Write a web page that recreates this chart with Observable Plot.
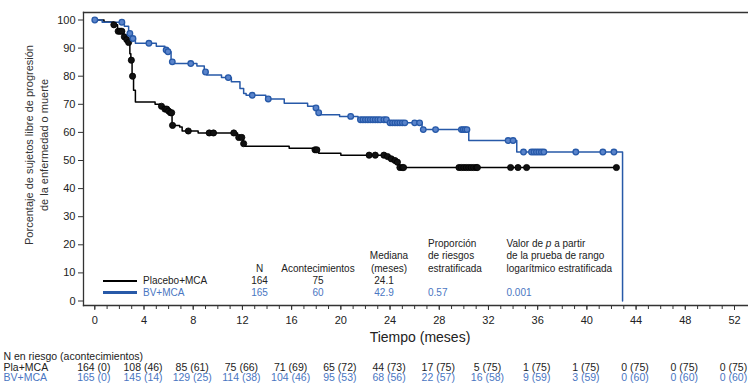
<!DOCTYPE html>
<html><head><meta charset="utf-8">
<script src="https://cdn.jsdelivr.net/npm/d3@7"></script>
<script src="https://cdn.jsdelivr.net/npm/@observablehq/plot@0.6"></script>
<style>
body{margin:0;background:#fff;}
#wrap{position:relative;width:748px;height:383px;font-family:"Liberation Sans",Arial,sans-serif;}
.lg{position:absolute;font-size:10px;line-height:12.5px;white-space:nowrap;color:#222;}
.sw{position:absolute;height:2.5px;}
</style></head><body><div id="wrap"></div>
<script>
// ---- Kaplan-Meier step data (time in months, % free of progression) ----
const placeboStepT = [0,0.75,1.5,1.85,2.35,2.5,2.7,2.85,2.93,3.03,3.15,3.3,4.9,5.3,5.6,5.9,6.1,6.28,6.9,7.1,8.4,11.6,12.05,12.2,15.8,17.8,18.2,20.0,23.7,24.0,24.3,24.5,24.7,42.4];
const placeboStepS = [100,99.3,98.3,96,94,93,92,88,85.7,80,75,70.8,70,69.3,68.3,67.6,67,62.5,61.9,60.5,59.8,58.2,56,55.1,54.4,53.8,52.6,51.9,51.4,50.6,50,49.4,47.5,47.5];
const placeboCensorT = [1.55,1.9,2.05,2.2,2.4,2.6,2.75,2.97,3.07,5.42,5.7,5.85,6.0,6.15,6.25,6.32,7.6,9.3,9.65,11.3,11.7,11.95,12.1,17.9,18.05,22.3,22.8,23.5,23.8,24.1,24.4,24.6,24.8,25.0,25.1,29.6,29.8,30.0,30.2,30.4,30.6,30.8,31.0,31.1,33.8,34.4,35.1,42.4];

const bvStepT = [0,0.6,2.4,2.75,3.0,3.3,5.0,5.7,5.85,6.2,6.35,8.3,8.9,9.1,10.3,11.1,11.8,12.1,12.3,13.9,15.4,17.3,17.9,18.15,18.3,19.9,21.4,23.9,26.6,30.4,34.3,42.9];
const bvStepS = [100,99.2,97.8,95.2,93.4,91.7,90.7,89.3,88.7,85.1,84.5,83.6,81.5,80.4,79.5,78.0,75.6,73.8,73.2,71.9,70.4,69.3,68.7,67.0,66.3,65.7,64.5,63.4,61.0,57.1,53.0,0];
const bvCensorT = [0,2.2,2.85,3.1,4.4,5.8,5.95,6.3,7.8,9.0,10.85,12.8,14.1,17.98,18.2,20.8,21.6,21.8,22.0,22.2,22.4,22.6,22.8,23.0,23.2,23.5,23.7,24.0,24.2,24.4,24.6,24.8,25.0,25.2,26.0,26.4,26.7,27.7,29.8,29.95,30.1,30.25,33.6,34.0,34.85,35.5,35.7,35.9,36.1,36.3,36.5,39.1,41.3,42.2];

// ---- axes / tables ----
const xMajorTicks = [0,4,8,12,16,20,24,28,32,36,40,44,48,52];
const xMinorTicks = d3.range(0,53,1);
const yTicks = [0,10,20,30,40,50,60,70,80,90,100];
const riskMonths = [0,4,8,12,16,20,24,28,32,36,40,44,48,52];
const placeboRisk   = [164,108,85,75,71,65,44,17,5,1,1,0,0,0];
const placeboEvents = [0,46,61,66,69,72,73,75,75,75,75,75,75,75];
const bvRisk   = [165,145,129,114,104,95,68,22,16,9,3,0,0,0];
const bvEvents = [0,14,25,38,46,53,56,57,58,59,59,60,60,60];

const groupNames = ["Placebo+MCA","BV+MCA"];
const groupShort = ["Pla+MCA","BV+MCA"];
const groupN = [164,165];
const groupEvents = [75,60];
const groupMedian = ["24.1","42.9"];
const hazardRatio = ["","0.57"];
const pValue = ["","0.001"];

const BLACK = "#000", BLUE = "#2759a8", BLUE_TEXT = "#4a76c2";

function stepRows(T,S){ return T.map((t,i)=>({t, s:S[i]})); }
function censorRows(C,T,S){
  return C.map(c=>{ let k=0; for(let i=0;i<T.length;i++) if(T[i]<=c) k=i; return {t:c, s:S[k]}; });
}
const placeboLine = stepRows(placeboStepT, placeboStepS);
const bvLine = stepRows(bvStepT, bvStepS);
const placeboCens = censorRows(placeboCensorT, placeboStepT, placeboStepS);
const bvCens = censorRows(bvCensorT, bvStepT, bvStepS);

const axisStroke = "#333";
const riskFont = 10.5;
const rowDy = [51, 62, 72.5];
const plot = Plot.plot({
  width:748, height:383,
  marginTop:12, marginBottom:78, marginLeft:83, marginRight:0,
  x:{domain:[0,52], insetLeft:11.3, insetRight:14},
  y:{domain:[0,100], insetTop:7.5, insetBottom:4.5},
  style:{fontFamily:"'Liberation Sans', Arial, sans-serif", fontSize:"11px", color:"#222", background:"#fff", overflow:"visible"},
  marks:[
    Plot.frame({anchor:"left", stroke:axisStroke, strokeWidth:1.3}),
    Plot.frame({anchor:"top", stroke:axisStroke, strokeWidth:1.3}),
    Plot.frame({anchor:"bottom", stroke:axisStroke, strokeWidth:1.3}),
    Plot.axisX({ticks:xMinorTicks, tickSize:4, tickFormat:()=>"", label:null, stroke:axisStroke}),
    Plot.axisX({ticks:xMajorTicks, tickSize:5, tickPadding:6, tickFormat:d=>String(d), label:null, stroke:axisStroke, fontSize:11, fill:"#222"}),
    Plot.axisY({ticks:yTicks, tickSize:5, tickPadding:3, tickFormat:d=>String(d), label:null, stroke:axisStroke, fontSize:11, fill:"#222"}),
    Plot.line(placeboLine, {x:"t", y:"s", curve:"step-after", stroke:BLACK, strokeWidth:1.5}),
    Plot.line(bvLine, {x:"t", y:"s", curve:"step-after", stroke:BLUE, strokeWidth:1.5}),
    Plot.dot(placeboCens, {x:"t", y:"s", r:3.1, fill:"#111", stroke:"#000", strokeWidth:0.8}),
    Plot.dot(bvCens, {x:"t", y:"s", r:2.8, fill:"#5a84cb", stroke:BLUE, strokeWidth:1.3}),
    Plot.text(["Tiempo (meses)"], {frameAnchor:"bottom", lineAnchor:"middle", textAnchor:"middle", dx:4, dy:32, fontSize:14, fill:"#222"}),
    Plot.text(["Porcentaje de sujetos libre de progresión\nde la enfermedad o muerte"], {frameAnchor:"left", rotate:-90, textAnchor:"middle", lineAnchor:"middle", dx:-47.5, dy:-14, lineHeight:1.36, fontSize:11, fill:"#333"}),
    Plot.text(["N en riesgo (acontecimientos)"], {frameAnchor:"bottom-left", textAnchor:"start", lineAnchor:"middle", dx:-80, dy:rowDy[0], fontSize:riskFont, fill:"#222"}),
    Plot.text([groupShort[0]], {frameAnchor:"bottom-left", textAnchor:"start", lineAnchor:"middle", dx:-80, dy:rowDy[1], fontSize:riskFont, fill:"#222"}),
    Plot.text([groupShort[1]], {frameAnchor:"bottom-left", textAnchor:"start", lineAnchor:"middle", dx:-80, dy:rowDy[2], fontSize:riskFont, fill:BLUE_TEXT}),
    Plot.text(riskMonths, {x:d=>d, text:(d,i)=>`${placeboRisk[i]} (${placeboEvents[i]})`, frameAnchor:"bottom", lineAnchor:"middle", textAnchor:"middle", dx:-1, dy:rowDy[1], fontSize:riskFont, fill:"#222"}),
    Plot.text(riskMonths, {x:d=>d, text:(d,i)=>`${bvRisk[i]} (${bvEvents[i]})`, frameAnchor:"bottom", lineAnchor:"middle", textAnchor:"middle", dx:-1, dy:rowDy[2], fontSize:riskFont, fill:BLUE_TEXT})
  ]
});
const wrap = document.getElementById("wrap");
wrap.appendChild(plot);

// ---- in-plot summary table (legend) ----
function addText(html, left, top, align, color){
  const el = document.createElement("div");
  el.className = "lg";
  el.innerHTML = html;
  el.style.left = left+"px"; el.style.top = top+"px";
  el.style.transform = align==="center" ? "translate(-50%,-50%)" : "translate(0,-50%)";
  if(color) el.style.color = color;
  wrap.appendChild(el);
}
const hdrY = [243.5, 256, 268.5];
addText("N", 259.5, hdrY[2], "center");
addText("Acontecimientos", 318, hdrY[2], "center");
addText("Mediana", 389, hdrY[1], "center");
addText("(meses)", 389, hdrY[2], "center");
["Proporción","de riesgos","estratificada"].forEach((t,i)=>addText(t, 428, hdrY[i], "left"));
["Valor de <i>p</i> a partir","de la prueba de rango","logarítmico estratificada"].forEach((t,i)=>addText(t, 506.5, hdrY[i], "left"));
const rowY = [281, 292.5];
const rowColor = ["#222", BLUE_TEXT];
const swColor = [BLACK, BLUE];
groupNames.forEach((g,i)=>{
  const sw = document.createElement("div");
  sw.className = "sw";
  sw.style.left = "103px"; sw.style.width = "34px";
  sw.style.top = (rowY[i]-1.25)+"px"; sw.style.background = swColor[i];
  wrap.appendChild(sw);
  addText(g, 143, rowY[i], "left", rowColor[i]);
  addText(String(groupN[i]), 259.5, rowY[i], "center", rowColor[i]);
  addText(String(groupEvents[i]), 318, rowY[i], "center", rowColor[i]);
  addText(groupMedian[i], 384, rowY[i], "center", rowColor[i]);
  if(hazardRatio[i]) addText(hazardRatio[i], 428, rowY[i], "left", rowColor[i]);
  if(pValue[i]) addText(pValue[i], 506.5, rowY[i], "left", rowColor[i]);
});
</script>
</body></html>
